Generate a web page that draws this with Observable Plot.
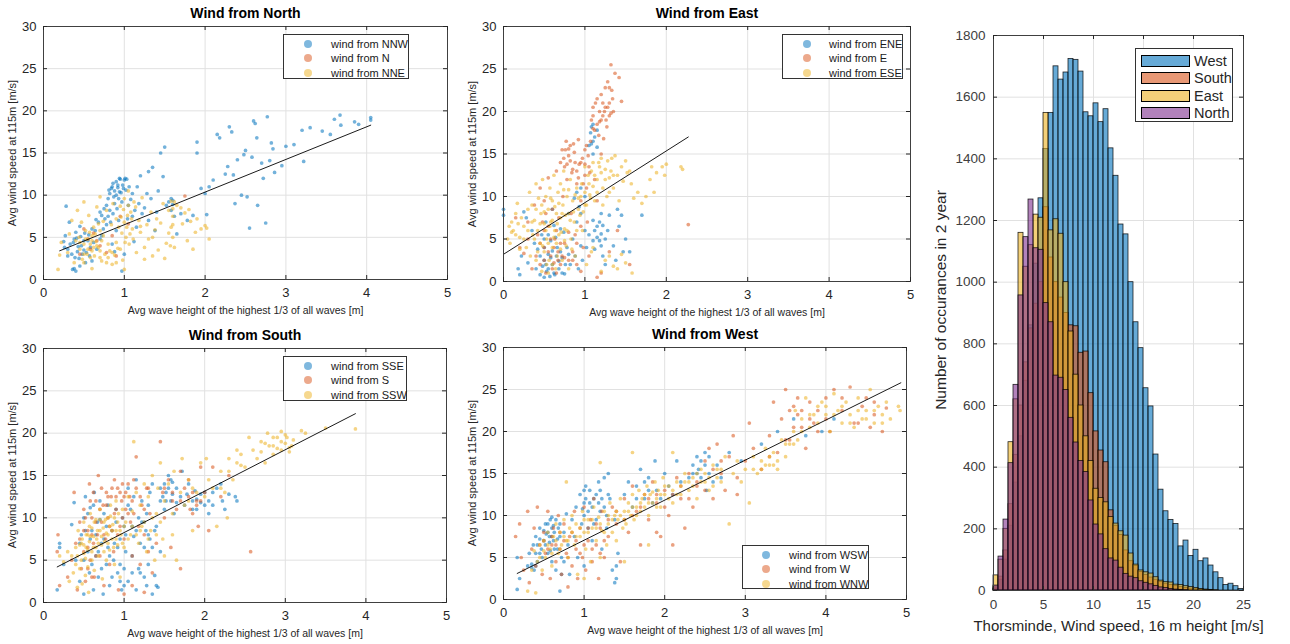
<!DOCTYPE html>
<html><head><meta charset="utf-8">
<script src="https://cdn.jsdelivr.net/npm/d3@7"></script>
<script src="https://cdn.jsdelivr.net/npm/@observablehq/plot@0.6"></script>
<style>
body{margin:0;background:#fff;font-family:"Liberation Sans",Arial,sans-serif;}
#fig{position:relative;width:1290px;height:644px;overflow:hidden;background:#fff;}
.panel{position:absolute;}
#fig svg g[aria-label$="tick label"]{font-size:13px;}
#fig svg.hist g[aria-label$="tick label"]{font-size:13.5px;}
.lg{position:absolute;background:#fff;border:1px solid #333;box-sizing:border-box;}
.lg .row{position:absolute;left:0;white-space:nowrap;color:#1a1a1a;}
.lg .mk{position:absolute;border-radius:50%;}
.lg .pt{position:absolute;border:1px solid #111;box-sizing:border-box;}
.ylab{position:absolute;white-space:nowrap;transform:translate(-50%,-50%) rotate(-90deg);color:#262626;font-family:"Liberation Sans",Arial,sans-serif;line-height:1;}
</style></head><body><div id="fig"></div>
<script>
// ---------- data ----------
const xTicks = [0,1,2,3,4,5];
const yTicks = [0,5,10,15,20,25,30];
const xLabel = "Avg wave height of the highest 1/3 of all waves [m]";
const yLabel = "Avg wind speed at 115m [m/s]";
const colors = ["#0072BD","#D95319","#EDB120"];

// North panel
const northTitle = "Wind from North";
const northNames = ["wind from NNW","wind from N","wind from NNE"];
const NNW = [[0.82,10.2],[0.85,11.0],[0.87,9.8],[0.88,10.5],[0.9,11.6],[0.92,10.9],[0.93,9.6],[0.95,11.9],[0.96,10.3],[0.98,11.2],[1.0,11.8],[1.02,10.6],[0.84,10.8],[0.9,10.0],[0.94,12.0],[1.03,11.9],[0.86,11.4],
[0.25,4.5],[0.27,5.2],[0.3,3.6],[0.33,4.2],[0.36,1.2],[0.38,4.8],[0.4,1.0],[0.4,5.6],[0.42,3.3],[0.44,2.5],[0.45,6.3],[0.47,4.0],[0.5,3.5],[0.52,2.0],[0.55,4.6],[0.58,3.8],[0.6,2.2],[0.28,8.7],[0.32,6.8],
[0.65,7.1],[0.7,8.0],[0.72,5.2],[0.75,8.4],[0.78,6.5],[0.8,7.5],[0.82,8.2],[0.85,4.2],[0.88,3.3],[0.9,5.8],[0.93,7.0],[0.97,1.0],[1.0,3.0],[1.05,8.8],[1.08,9.5],[1.1,7.5],[1.12,4.5],[1.15,6.2],[1.2,12.3],[1.18,9.0],[1.25,8.5],[1.28,10.2],[1.3,12.8],[1.35,13.3],[1.38,5.8],[1.45,15.0],[1.5,15.7],[1.42,10.5],
[1.55,9.2],[1.58,9.6],[1.6,8.9],[1.62,7.5],[1.65,5.4],[1.7,7.8],[1.78,7.0],[1.85,7.6],[1.9,15.0],[1.9,16.3],[1.95,10.8],[2.0,10.2],[2.02,7.7],[2.05,11.0],[2.1,11.8],[2.15,17.2],[2.18,16.8],[2.25,12.5],[2.28,13.4],[2.3,18.1],[2.33,17.5],[2.35,12.4],[2.37,9.0],[2.4,14.2],[2.45,10.0],[2.48,14.8],[2.5,15.3],[2.52,9.8],[2.55,6.1],[2.58,14.5],[2.6,18.8],[2.62,18.5],[2.64,16.8],[2.65,8.8],[2.7,13.8],[2.72,12.0],[2.75,6.7],[2.77,19.3],[2.8,14.1],[2.82,16.2],[2.84,15.5],[2.86,12.7],[2.95,13.5],[3.0,15.8],[3.1,16.0],[3.2,17.7],[3.22,14.0],[3.3,18.0],[3.45,17.6],[3.55,17.2],[3.6,19.0],[3.67,19.5],[3.68,18.3],[3.85,18.7],[3.9,18.4],[4.05,19.2],[4.05,18.9],
[0.35,3.0],[0.37,4.4],[0.39,2.6],[0.41,4.9],[0.43,3.9],[0.46,5.1],[0.48,3.0],[0.5,4.6],[0.51,5.5],[0.53,3.2],[0.56,5.3],[0.57,2.8],[0.6,6.0],[0.62,4.4],[0.64,5.8],[0.66,3.6],[0.68,6.8],[0.7,4.8],[0.72,7.6],[0.74,6.0],[0.76,7.2],[0.78,8.8],[0.8,9.6],[0.81,10.6],[0.83,6.8],[0.86,7.8],[0.88,9.0],[0.91,8.4],[0.92,11.2],[0.94,10.4],[0.97,9.2],[0.99,10.8],[1.01,12.0],[1.04,7.2],[1.06,11.0],[1.1,10.2],[1.13,8.2],[1.16,11.0],[1.22,7.8],[1.3,7.0],[1.33,9.6],[1.4,8.0],[1.48,12.2],[1.52,8.8],[1.58,8.2],[1.6,9.4],[0.45,1.6],[0.38,1.3],[0.3,2.8],[0.26,3.8]];
const N_ = [[0.55,4.8],[0.62,5.5],[0.7,4.0],[0.78,3.2],[0.95,7.5],[1.05,6.6],[0.5,6.0],[1.75,9.9],[0.45,3.0],[0.9,2.8],[0.58,3.6],[0.66,4.6],[0.85,5.2]];
const NNE = [[0.18,1.2],[0.2,2.9],[0.22,4.4],[0.3,3.2],[0.32,5.4],[0.35,7.0],[0.38,2.0],[0.4,4.6],[0.42,8.2],[0.44,5.0],[0.45,3.6],[0.47,6.8],[0.48,2.4],[0.5,4.2],[0.5,9.2],[0.52,5.8],[0.54,3.0],[0.55,4.8],[0.56,7.6],[0.58,4.2],[0.6,3.4],[0.6,5.2],[0.62,6.2],[0.63,2.8],[0.65,4.5],[0.66,8.6],[0.68,3.8],[0.7,5.8],[0.72,2.2],[0.74,6.9],[0.76,3.0],[0.78,8.2],[0.8,2.6],[0.82,3.4],[0.84,6.5],[0.86,9.0],[0.88,2.9],[0.9,7.2],[0.92,3.7],[0.95,8.7],[0.97,5.5],[0.98,2.3],[1.0,6.8],[1.0,9.6],[1.02,5.0],[1.04,7.6],[1.05,10.5],[1.06,4.2],[1.08,8.0],[1.1,6.0],[1.12,9.2],[1.15,3.2],[1.18,7.0],[1.2,5.6],[1.22,9.7],[1.25,3.8],[1.28,6.5],[1.3,4.8],[1.33,8.0],[1.35,2.8],[1.38,5.9],[1.4,7.2],[1.42,3.5],[1.45,6.7],[1.48,9.0],[1.5,2.5],[1.52,4.3],[1.55,8.2],[1.58,6.2],[1.6,5.0],[1.6,7.5],[1.62,9.2],[1.65,8.8],[1.7,8.5],[1.72,6.6],[1.75,7.9],[1.78,4.6],[1.8,8.3],[1.82,6.9],[1.85,3.6],[1.9,7.2],[1.95,6.0],[2.0,6.4],[2.02,6.1],[2.05,4.8],[1.88,5.6],[0.5,2.0],[0.6,1.3],[0.7,9.8],[0.85,1.8],[1.0,1.2],
[0.45,4.4],[0.5,3.0],[0.52,4.8],[0.55,3.6],[0.57,5.6],[0.58,2.6],[0.6,4.6],[0.62,3.8],[0.64,5.4],[0.66,4.0],[0.68,6.6],[0.7,3.4],[0.72,4.6],[0.74,5.2],[0.8,4.2],[0.85,3.2],[0.9,4.4],[0.93,6.2],[0.96,7.4],[0.99,8.3],[1.01,4.4],[1.03,6.2],[1.05,8.8],[1.07,5.4],[1.09,7.2],[1.11,4.8],[1.14,8.6],[1.2,6.3],[1.55,5.5],[1.57,4.0],[1.6,6.5],[1.62,3.8],[1.6,8.4],[1.58,9.3],[1.25,2.4],[1.35,5.0],[0.78,2.0],[0.9,2.0],[0.95,3.6],[0.7,2.6]];
const northFit = [[0.2,3.4],[4.05,18.3]];

// East panel
const eastTitle = "Wind from East";
const eastNames = ["wind from ENE","wind from E","wind from ESE"];
const ENE = [[0.0,8.5],[0.0,7.8],[0.18,1.5],[0.2,0.8],[0.22,3.0],[0.25,8.2],[0.28,7.5],[0.3,2.2],[0.35,6.0],[0.38,4.5],[0.4,1.5],[0.42,3.8],[0.45,0.8],[0.47,5.5],[0.5,0.5],[0.5,2.5],[0.52,7.0],[0.53,1.2],[0.55,3.2],[0.57,0.6],[0.58,4.8],[0.6,2.0],[0.6,8.5],[0.62,1.0],[0.64,5.2],[0.65,3.0],[0.68,1.5],[0.7,6.2],[0.72,2.8],[0.75,0.9],[0.78,4.0],[0.8,8.0],[0.82,2.0],[0.85,5.0],[0.87,9.8],[0.88,3.0],[0.9,10.5],[0.92,1.5],[0.93,8.8],[0.95,4.2],[0.97,2.5],[1.0,6.0],[1.02,4.0],[1.05,5.5],[1.05,16.0],[1.07,17.5],[1.08,18.2],[1.1,15.0],[1.1,7.2],[1.12,3.8],[1.12,17.0],[1.15,6.5],[1.15,15.8],[1.18,4.8],[1.2,5.6],[1.2,8.0],[1.22,3.0],[1.25,2.0],[1.28,6.0],[1.3,7.8],[1.35,4.2],[1.38,2.5],[1.4,8.5],[1.42,6.5],[1.45,7.8],[1.47,3.5],[1.5,5.0],[1.55,3.5],[1.7,7.8],[1.1,16.5],[1.0,10.0],[0.95,11.0],
[0.45,3.0],[0.5,4.0],[0.52,2.0],[0.55,1.5],[0.55,5.5],[0.58,2.8],[0.6,3.6],[0.62,6.6],[0.63,0.8],[0.66,4.0],[0.68,2.4],[0.7,3.5],[0.72,1.0],[0.74,5.8],[0.76,2.0],[0.8,3.2],[1.1,4.8],[1.12,6.0],[1.15,5.2],[1.18,7.0],[1.2,4.2],[1.22,6.6],[1.25,5.0],[1.15,17.8],[1.1,18.5],[1.08,16.2],[0.95,8.0],[0.9,7.0],[0.5,5.0],[0.48,1.8]];
const E_ = [[0.15,7.5],[0.2,4.0],[0.25,3.3],[0.3,5.0],[0.35,1.5],[0.38,9.0],[0.4,3.0],[0.42,5.5],[0.45,2.0],[0.45,11.0],[0.48,7.0],[0.5,4.0],[0.52,1.0],[0.55,6.5],[0.55,12.2],[0.58,3.0],[0.6,8.5],[0.62,2.2],[0.63,5.0],[0.65,13.0],[0.67,3.5],[0.68,7.5],[0.7,14.0],[0.7,2.0],[0.72,15.5],[0.73,10.0],[0.75,4.5],[0.75,13.5],[0.77,16.5],[0.78,12.0],[0.8,14.8],[0.8,2.5],[0.82,16.0],[0.83,8.0],[0.85,13.2],[0.85,3.5],[0.87,15.2],[0.88,5.5],[0.9,11.5],[0.9,2.0],[0.92,16.7],[0.93,13.8],[0.95,9.5],[0.97,14.5],[0.98,4.0],[1.0,12.5],[1.0,15.5],[1.02,11.0],[1.03,7.0],[1.05,13.5],[1.07,16.5],[1.08,19.0],[1.1,18.0],[1.1,20.5],[1.12,12.0],[1.13,21.0],[1.15,18.5],[1.15,9.5],[1.17,17.2],[1.18,20.0],[1.2,22.0],[1.2,15.0],[1.22,19.5],[1.23,16.8],[1.25,22.8],[1.25,20.5],[1.27,18.2],[1.28,23.5],[1.3,21.0],[1.3,19.5],[1.32,25.5],[1.33,22.5],[1.35,20.0],[1.37,24.5],[1.42,24.0],[1.45,21.2],[1.2,1.0],[1.15,0.5],[0.65,1.0],[0.5,9.5],[0.3,7.0],[2.27,6.7],[1.4,6.0],[1.3,3.5],[1.55,2.0],[0.95,1.2],[1.05,3.0],
[0.45,4.5],[0.5,2.5],[0.5,6.0],[0.52,8.0],[0.55,3.5],[0.58,5.0],[0.6,1.5],[0.62,4.0],[0.65,6.0],[0.67,2.5],[0.7,4.5],[0.72,3.0],[0.74,14.5],[0.76,15.5],[0.78,13.8],[0.8,15.6],[0.82,14.2],[0.84,12.8],[0.86,16.2],[0.88,14.0],[0.9,13.0],[0.92,12.2],[0.95,14.0],[0.98,11.5],[1.0,13.8],[1.02,16.0],[1.04,14.8],[1.06,12.8],[1.1,19.5],[1.12,17.8],[1.15,21.5],[1.18,18.8],[1.2,19.0],[1.22,21.0],[1.24,20.0],[1.26,19.0],[1.28,20.5],[1.3,22.8],[1.32,19.8],[1.34,21.5],[0.85,2.5],[0.75,2.8],[0.8,5.8],[0.9,4.5],[0.95,6.5]];
const ESE = [[0.05,5.0],[0.07,6.5],[0.08,4.5],[0.1,5.8],[0.1,7.0],[0.12,6.0],[0.15,8.0],[0.17,9.2],[0.2,5.2],[0.2,3.8],[0.22,7.5],[0.25,6.5],[0.28,4.0],[0.3,8.5],[0.32,10.5],[0.33,3.0],[0.35,9.0],[0.36,5.5],[0.38,7.2],[0.4,11.5],[0.4,2.5],[0.42,6.0],[0.43,9.8],[0.45,4.5],[0.46,8.0],[0.47,1.2],[0.48,12.0],[0.5,6.8],[0.5,3.5],[0.52,10.0],[0.53,5.0],[0.55,8.5],[0.55,1.0],[0.56,2.5],[0.57,11.0],[0.58,7.0],[0.6,4.0],[0.6,9.5],[0.62,12.5],[0.63,6.0],[0.64,1.5],[0.65,8.0],[0.66,3.0],[0.67,10.5],[0.68,5.5],[0.7,7.5],[0.7,11.5],[0.72,2.5],[0.73,9.0],[0.74,13.0],[0.75,6.2],[0.77,4.2],[0.78,10.0],[0.8,8.0],[0.8,1.5],[0.82,12.0],[0.83,5.0],[0.85,9.5],[0.87,7.0],[0.88,3.0],[0.9,11.0],[0.92,8.5],[0.95,10.0],[0.97,6.0],[1.0,9.0],[1.0,13.5],[1.02,2.0],[1.05,11.5],[1.07,9.8],[1.08,3.5],[1.1,14.0],[1.12,12.5],[1.15,10.5],[1.18,13.5],[1.2,14.5],[1.2,1.2],[1.22,9.0],[1.25,12.0],[1.28,14.2],[1.3,10.5],[1.3,3.0],[1.32,13.0],[1.35,11.0],[1.37,14.8],[1.4,12.5],[1.4,1.5],[1.42,9.5],[1.45,13.5],[1.47,11.8],[1.5,14.2],[1.5,2.2],[1.52,12.8],[1.55,13.0],[1.57,11.5],[1.58,1.0],[1.6,9.8],[1.65,10.5],[1.7,9.2],[1.75,10.0],[1.8,12.0],[1.82,13.5],[1.85,10.5],[1.88,12.8],[1.95,13.5],[2.0,13.8],[1.98,12.5],[2.2,13.2],[2.18,13.5],[1.45,3.2],[1.35,1.8],[1.1,4.0],[1.25,2.5],
[0.42,3.5],[0.45,6.8],[0.47,9.0],[0.48,4.2],[0.5,8.2],[0.52,6.0],[0.53,2.0],[0.55,4.5],[0.57,6.5],[0.58,9.8],[0.6,7.2],[0.6,2.0],[0.62,5.2],[0.63,8.8],[0.65,4.5],[0.66,6.8],[0.68,9.2],[0.7,3.8],[0.71,5.8],[0.72,8.0],[0.74,10.8],[0.75,4.8],[0.76,7.8],[0.78,6.0],[0.8,10.8],[0.82,7.2],[0.84,3.8],[0.86,8.2],[0.88,10.2],[0.9,6.0],[0.92,9.8],[0.94,7.8],[0.96,11.5],[0.98,8.2],[1.0,10.5],[1.02,9.0],[1.04,12.5],[1.06,10.2],[1.08,13.0],[1.1,11.2],[1.12,9.5],[1.15,12.0],[1.17,14.0],[1.2,12.8],[1.22,11.0],[1.25,13.2],[1.27,10.0],[1.3,12.2],[1.33,14.5],[1.35,12.5],[0.3,6.0],[0.35,7.0],[0.38,5.0],[0.25,5.0],[0.4,8.5],[0.15,5.5],[0.18,6.8]];
const eastFit = [[0.0,3.2],[2.27,17.0]];

// South panel
const southTitle = "Wind from South";
const southNames = ["wind from SSE","wind from S","wind from SSW"];
const SSE = [[0.17,1.5],[0.2,6.5],[0.2,7.0],[0.25,4.5],[0.35,9.2],[0.38,11.8],[0.4,5.0],[0.45,2.5],[0.47,8.0],[0.5,1.0],[0.5,10.0],[0.52,12.5],[0.55,6.0],[0.57,3.5],[0.58,11.2],[0.6,8.5],[0.62,1.5],[0.63,13.0],[0.65,5.5],[0.67,9.5],[0.68,3.0],[0.7,12.0],[0.72,7.0],[0.74,1.0],[0.75,10.5],[0.78,4.5],[0.8,6.5],[0.82,2.0],[0.85,8.5],[0.87,5.0],[0.9,11.0],[0.92,3.5],[0.95,7.5],[0.97,1.5],[1.0,9.0],[1.0,4.0],[1.02,6.0],[1.05,13.5],[1.05,2.5],[1.08,11.0],[1.1,5.5],[1.12,7.8],[1.15,1.5],[1.15,14.5],[1.18,10.0],[1.2,3.5],[1.22,12.0],[1.25,6.5],[1.27,8.5],[1.28,2.0],[1.3,4.5],[1.3,11.5],[1.32,7.5],[1.35,1.0],[1.35,14.0],[1.38,3.2],[1.4,9.0],[1.42,1.8],[1.45,13.5],[1.48,12.5],[1.5,11.0],[1.52,13.0],[1.55,15.0],[1.58,12.0],[1.6,14.2],[1.62,10.5],[1.65,13.5],[1.7,12.5],[1.72,15.5],[1.75,11.5],[1.78,12.8],[1.8,14.0],[1.85,11.0],[1.88,13.2],[1.9,12.2],[1.95,11.8],[2.0,13.0],[2.05,10.5],[2.1,11.5],[2.15,13.5],[2.2,14.0],[2.22,12.0],[2.25,11.0],[2.3,12.8],[2.38,12.5],[2.4,12.0],[1.45,6.0],[1.25,9.5],
[0.45,7.0],[0.5,5.0],[0.52,8.5],[0.55,10.5],[0.58,7.5],[0.6,4.5],[0.62,11.5],[0.65,8.0],[0.68,6.0],[0.7,9.8],[0.72,4.0],[0.75,7.5],[0.78,9.0],[0.8,11.5],[0.82,5.5],[0.85,3.0],[0.88,7.0],[0.9,9.5],[0.92,6.5],[0.95,4.5],[0.98,10.0],[1.0,2.0],[1.02,8.0],[1.05,11.5],[1.1,9.0],[1.12,12.5],[1.15,8.5],[1.18,4.0],[1.2,7.0],[1.22,9.5],[1.25,3.0],[1.28,10.5],[1.3,8.0],[1.32,13.0],[1.35,6.5],[1.38,8.5],[1.4,2.0],[1.45,12.0],[1.5,14.0],[1.52,12.0],[1.55,13.5],[1.58,14.5],[1.6,12.8],[1.65,11.8],[1.85,12.0],[1.9,11.0],[1.95,12.8],[2.0,11.5],[2.05,12.0],[2.1,13.0],[1.1,3.5],[0.95,2.5]];
const S_ = [[0.17,6.0],[0.18,8.0],[0.2,2.0],[0.3,3.0],[0.35,5.0],[0.38,13.0],[0.4,7.0],[0.42,1.5],[0.45,9.5],[0.47,4.0],[0.5,11.0],[0.5,6.0],[0.52,2.5],[0.55,8.5],[0.57,14.0],[0.58,5.0],[0.6,10.0],[0.62,7.0],[0.63,3.0],[0.65,12.0],[0.67,8.0],[0.68,15.0],[0.7,5.5],[0.72,9.5],[0.74,11.5],[0.75,2.0],[0.77,7.5],[0.78,13.0],[0.8,10.0],[0.82,4.5],[0.84,12.5],[0.85,8.5],[0.87,6.0],[0.88,14.5],[0.9,11.0],[0.92,13.5],[0.93,1.5],[0.95,9.0],[0.97,12.0],[0.98,14.0],[1.0,7.5],[1.0,1.0],[1.02,13.0],[1.05,10.5],[1.07,12.5],[1.1,5.5],[1.12,14.5],[1.15,17.2],[1.18,9.0],[1.2,4.5],[1.22,11.5],[1.25,8.0],[1.28,13.5],[1.3,6.0],[1.32,10.5],[1.35,3.5],[1.4,7.0],[1.45,19.0],[1.48,13.0],[1.5,10.0],[1.55,14.5],[1.6,12.0],[1.65,11.0],[1.7,15.5],[1.75,13.5],[1.8,14.5],[1.82,11.0],[1.85,10.5],[1.9,12.0],[1.92,9.0],[1.95,16.0],[2.0,13.0],[2.05,8.5],[2.1,16.0],[2.2,12.5],[2.3,15.0],[2.57,6.0],[1.58,6.5],[1.7,4.0],[1.1,2.0],[1.25,1.2],
[0.45,7.5],[0.5,8.5],[0.52,10.0],[0.55,6.5],[0.58,12.0],[0.6,8.0],[0.62,13.0],[0.65,9.5],[0.7,11.0],[0.72,13.5],[0.75,8.0],[0.78,11.5],[0.8,12.5],[0.82,9.0],[0.85,13.5],[0.88,10.5],[0.9,12.5],[0.92,8.0],[0.95,13.0],[0.98,10.0],[1.0,12.5],[1.02,11.0],[1.05,14.0],[1.08,9.5],[1.1,12.0],[1.12,10.5],[1.15,13.5],[1.2,12.5],[1.25,11.0],[1.3,13.5],[1.5,13.5],[1.6,13.0],[1.7,12.0],[1.8,12.5],[1.85,13.0],[1.9,11.5],[1.95,12.0],[0.55,4.0],[0.6,3.0],[0.65,5.5]];
const SSW = [[0.2,5.5],[0.25,4.8],[0.3,6.0],[0.32,2.5],[0.35,5.5],[0.37,3.5],[0.4,6.5],[0.42,1.8],[0.43,8.5],[0.45,4.0],[0.47,7.0],[0.48,2.2],[0.5,5.8],[0.5,9.5],[0.52,3.2],[0.53,6.5],[0.55,8.0],[0.56,1.2],[0.57,7.2],[0.58,10.5],[0.6,5.0],[0.6,8.8],[0.62,6.5],[0.63,3.8],[0.65,9.8],[0.66,7.5],[0.68,5.5],[0.7,8.5],[0.7,11.0],[0.72,6.8],[0.73,2.8],[0.75,9.5],[0.76,7.2],[0.78,5.0],[0.8,10.0],[0.8,8.0],[0.82,6.2],[0.83,11.5],[0.85,7.5],[0.86,9.2],[0.88,4.5],[0.9,8.5],[0.9,12.0],[0.92,6.8],[0.93,10.5],[0.95,3.0],[0.96,8.0],[0.98,11.0],[1.0,6.5],[1.02,9.5],[1.05,12.5],[1.08,8.0],[1.1,10.8],[1.12,19.0],[1.15,13.0],[1.18,7.0],[1.2,11.5],[1.22,9.0],[1.25,14.0],[1.28,6.0],[1.3,12.5],[1.33,8.5],[1.35,15.0],[1.38,5.0],[1.4,10.5],[1.42,13.5],[1.45,16.5],[1.48,7.5],[1.5,12.0],[1.5,5.5],[1.55,14.0],[1.6,10.5],[1.62,15.5],[1.65,5.0],[1.7,13.0],[1.72,17.0],[1.75,11.5],[1.8,14.5],[1.85,8.5],[1.9,13.0],[1.95,16.5],[2.0,12.5],[2.02,17.0],[2.05,14.5],[2.1,13.5],[2.15,9.0],[2.2,15.5],[2.25,13.0],[2.28,10.0],[2.3,17.0],[2.35,14.5],[2.4,18.0],[2.45,17.5],[2.5,16.0],[2.55,19.5],[2.6,18.0],[2.65,17.0],[2.7,19.0],[2.75,16.5],[2.78,20.0],[2.8,18.5],[2.85,19.5],[2.9,18.2],[2.95,20.2],[3.0,18.8],[3.02,19.5],[3.05,17.8],[3.08,18.5],[3.1,19.2],[3.2,20.3],[3.25,20.0],[3.5,20.6],[3.87,20.5],[2.85,17.5],[2.95,19.0],[1.45,9.5],[1.6,8.0],
[0.4,4.5],[0.42,5.5],[0.45,6.8],[0.47,5.0],[0.48,7.5],[0.5,6.8],[0.52,5.2],[0.53,8.0],[0.55,6.2],[0.55,4.2],[0.57,9.0],[0.58,7.8],[0.6,6.0],[0.62,7.8],[0.63,9.5],[0.65,6.5],[0.67,8.5],[0.68,7.0],[0.7,9.8],[0.72,7.8],[0.74,8.8],[0.75,6.0],[0.77,9.8],[0.78,8.2],[0.8,7.0],[0.82,9.0],[0.83,10.2],[0.85,8.5],[0.87,6.5],[0.88,10.0],[0.9,7.5],[0.92,9.5],[0.95,8.5],[0.98,7.0],[1.0,9.0],[1.05,7.5],[1.1,9.0],[1.15,8.0],[1.2,8.5],[1.25,9.5],[1.3,7.5],[1.35,10.0],[1.4,8.0],[2.85,18.5],[2.9,19.5],[2.95,18.0],[3.0,19.8],[3.05,18.3],[2.75,18.8],[2.7,17.8],[2.45,16.2],[2.4,16.5],[2.2,13.5],[2.3,15.5],[1.8,12.0],[1.85,13.5]];
const southFit = [[0.17,4.2],[3.87,22.3]];

// West panel
const westTitle = "Wind from West";
const westNames = ["wind from WSW","wind from W","wind from WNW"];
const WSW = [[0.17,1.2],[0.17,5.0],[0.2,2.5],[0.3,4.0],[0.32,5.5],[0.35,3.8],[0.37,6.5],[0.4,7.5],[0.42,4.5],[0.45,8.5],[0.47,6.0],[0.5,7.0],[0.52,9.0],[0.55,5.5],[0.55,8.0],[0.57,6.8],[0.58,9.5],[0.6,7.5],[0.6,4.5],[0.62,8.8],[0.63,6.0],[0.65,3.5],[0.67,7.2],[0.7,1.0],[0.7,9.0],[0.72,5.0],[0.75,8.0],[0.78,10.2],[0.8,6.5],[0.82,3.0],[0.85,9.5],[0.88,7.5],[0.9,11.0],[0.92,5.0],[0.95,12.5],[0.97,9.0],[1.0,10.0],[1.0,4.0],[1.02,13.5],[1.05,8.5],[1.07,11.5],[1.1,7.0],[1.12,12.0],[1.15,9.5],[1.18,14.0],[1.2,10.5],[1.22,6.0],[1.25,11.0],[1.28,8.5],[1.3,15.0],[1.32,12.0],[1.35,3.5],[1.38,9.5],[1.4,2.5],[1.42,5.5],[1.5,12.5],[1.55,14.0],[1.6,11.0],[1.65,13.5],[1.7,15.5],[1.75,12.0],[1.8,14.5],[1.85,11.5],[1.88,16.5],[1.9,13.0],[1.95,12.0],[2.0,15.0],[2.05,13.5],[2.1,12.5],[2.15,16.5],[2.2,14.0],[2.3,14.5],[2.35,16.0],[2.4,17.0],[2.42,15.5],[2.45,16.5],[2.5,17.5],[2.52,13.0],[2.55,15.0],[2.6,14.0],[2.65,16.0],[2.7,14.5],[2.8,17.5],[2.95,16.5],[3.2,18.5],[3.4,20.0],[3.6,21.5],[3.75,19.5],[3.95,20.0],[4.1,21.5],
[0.4,5.5],[0.42,6.5],[0.45,7.2],[0.48,5.0],[0.5,8.2],[0.52,6.5],[0.53,7.8],[0.55,9.0],[0.57,7.5],[0.58,5.8],[0.6,8.5],[0.6,9.8],[0.62,7.0],[0.63,8.0],[0.65,9.5],[0.67,6.0],[0.68,8.5],[0.7,7.5],[0.35,4.2],[0.38,3.5],[0.4,4.0],[0.45,5.5],[1.0,11.5],[1.02,12.0],[1.05,10.5],[1.07,13.0],[1.1,11.0],[1.12,9.0],[1.15,12.5],[1.18,11.5],[1.2,13.0],[1.22,12.0],[1.25,14.5],[1.28,10.0],[1.3,12.5],[1.0,13.0],[0.98,10.8],[2.4,15.0],[2.45,14.5],[2.5,16.0],[2.55,17.0],[2.35,15.0],[1.8,13.0],[1.75,14.0],[1.65,12.0],[0.72,3.0],[0.75,4.5],[1.4,4.0],[1.38,2.0]];
const W_ = [[0.15,7.5],[0.2,9.0],[0.22,5.0],[0.25,3.5],[0.3,10.5],[0.32,2.0],[0.35,6.0],[0.38,8.5],[0.4,4.0],[0.42,11.0],[0.45,6.5],[0.48,3.0],[0.5,8.0],[0.52,5.5],[0.55,10.5],[0.58,2.5],[0.6,6.5],[0.62,8.5],[0.65,4.5],[0.68,10.0],[0.7,6.0],[0.72,3.0],[0.75,9.0],[0.78,5.5],[0.8,1.5],[0.82,7.5],[0.85,4.0],[0.88,10.5],[0.9,6.0],[0.92,2.5],[0.95,8.5],[0.98,5.0],[1.0,11.0],[1.02,3.5],[1.05,7.0],[1.08,9.5],[1.1,4.5],[1.12,12.0],[1.15,6.5],[1.18,2.5],[1.2,8.5],[1.22,10.5],[1.25,5.0],[1.3,7.5],[1.35,11.0],[1.4,9.0],[1.45,4.5],[1.5,12.0],[1.55,8.0],[1.6,13.5],[1.65,10.5],[1.7,6.5],[1.75,12.5],[1.8,9.5],[1.85,14.0],[1.9,11.5],[1.95,7.5],[2.0,13.0],[2.05,10.0],[2.1,6.5],[2.15,14.5],[2.2,12.0],[2.25,8.5],[2.3,15.0],[2.35,11.0],[2.4,13.5],[2.5,16.5],[2.55,18.0],[2.6,12.0],[2.65,18.5],[2.7,15.0],[2.75,13.0],[2.8,17.0],[2.85,19.5],[2.9,14.5],[3.0,16.5],[3.05,21.0],[3.1,18.0],[3.2,15.5],[3.3,19.5],[3.35,23.5],[3.4,17.5],[3.45,21.5],[3.5,25.0],[3.55,19.0],[3.6,23.0],[3.65,22.0],[3.7,20.5],[3.75,18.0],[3.8,23.5],[3.85,21.0],[3.9,22.5],[4.0,24.0],[4.05,20.0],[4.1,25.0],[4.2,22.5],[4.3,25.3],[4.35,21.0],[4.45,23.0],[4.55,20.5],[4.6,22.0],[4.7,20.0],[4.75,22.8],[2.9,12.5],[1.9,8.0],
[0.5,7.0],[0.55,6.0],[0.6,7.5],[0.65,6.5],[0.7,8.0],[0.75,7.0],[0.8,5.0],[0.85,8.0],[0.9,7.0],[0.95,5.5],[1.0,6.5],[1.05,8.5],[1.1,6.0],[1.15,9.0],[1.2,5.5],[1.25,7.0],[1.3,9.5],[1.4,10.5],[1.5,9.5],[1.6,10.0],[1.7,11.0],[1.8,12.0],[1.9,12.5],[2.0,11.0],[2.1,12.5],[2.2,13.5],[2.3,12.0],[2.4,14.0],[2.5,13.0],[2.6,15.5],[2.7,16.5],[3.3,17.0],[3.5,19.0],[3.6,20.5],[3.7,22.5],[3.8,21.5],[3.9,20.0],[4.0,21.5],[4.2,24.0],[4.4,21.0],[4.5,24.0],[4.6,23.5],[3.55,22.5],[3.65,24.0]];
const WNW = [[0.3,1.0],[0.35,3.5],[0.38,5.8],[0.4,0.8],[0.42,4.5],[0.45,6.5],[0.48,3.5],[0.5,7.0],[0.52,5.0],[0.55,8.0],[0.58,6.0],[0.6,4.0],[0.62,7.5],[0.65,9.0],[0.68,5.5],[0.7,8.0],[0.72,6.5],[0.75,9.5],[0.78,7.0],[0.8,5.0],[0.82,8.5],[0.85,10.0],[0.88,6.5],[0.9,9.0],[0.92,3.0],[0.95,7.5],[0.98,10.5],[1.0,8.0],[1.0,2.5],[1.02,6.0],[1.05,9.5],[1.08,4.5],[1.1,8.5],[1.12,11.0],[1.15,7.0],[1.18,9.8],[1.2,5.0],[1.22,8.2],[1.25,10.5],[1.28,6.5],[1.3,9.0],[1.32,11.5],[1.35,8.0],[1.38,10.0],[1.4,7.0],[1.42,9.5],[1.45,12.0],[1.48,8.5],[1.5,10.5],[1.52,9.0],[1.55,11.5],[1.58,10.0],[1.6,12.5],[1.62,9.5],[1.65,11.0],[1.68,13.0],[1.7,10.5],[1.72,12.0],[1.75,11.0],[1.78,13.5],[1.8,10.0],[1.82,12.5],[1.85,11.5],[1.88,14.0],[1.9,12.0],[1.92,13.0],[1.95,11.0],[1.98,14.5],[2.0,12.5],[2.05,13.5],[2.1,11.5],[2.15,14.0],[2.2,12.5],[2.25,15.0],[2.3,13.0],[2.35,14.5],[2.4,12.0],[2.45,15.5],[2.5,14.0],[2.55,13.0],[2.6,16.0],[2.65,14.5],[2.7,15.5],[2.75,17.0],[2.8,9.0],[2.85,15.0],[2.9,16.5],[2.95,14.0],[3.0,15.5],[3.05,11.5],[3.1,17.0],[3.15,15.0],[3.2,16.5],[3.25,18.0],[3.3,16.0],[3.35,17.5],[3.4,15.5],[3.45,19.0],[3.5,17.0],[3.55,18.5],[3.6,20.0],[3.62,22.5],[3.65,19.0],[3.7,21.5],[3.75,24.0],[3.8,20.5],[3.85,22.0],[3.9,21.0],[3.95,23.5],[4.0,22.0],[4.05,20.0],[4.1,24.5],[4.15,22.5],[4.2,21.0],[4.25,23.5],[4.3,22.0],[4.35,20.5],[4.4,24.0],[4.45,21.5],[4.5,22.5],[4.55,25.0],[4.6,21.0],[4.65,23.0],[4.7,22.0],[4.8,21.5],[4.9,23.0],[4.92,22.5],[2.1,17.5],[1.6,17.5],[0.78,14.0],[1.5,4.5],[1.8,6.5],[1.2,16.3],[3.1,15.5],
[0.45,5.0],[0.5,5.8],[0.55,6.5],[0.6,5.5],[0.65,7.0],[0.7,6.0],[0.75,7.5],[0.8,7.0],[0.85,8.0],[0.9,7.5],[0.95,8.5],[1.0,9.5],[1.05,8.0],[1.1,9.5],[1.15,8.5],[1.2,9.0],[1.25,8.0],[1.3,10.0],[1.35,9.5],[1.4,10.5],[1.45,10.0],[1.5,9.5],[1.55,10.5],[1.6,11.0],[1.65,10.0],[1.7,11.5],[1.75,12.5],[1.8,11.5],[1.85,12.8],[1.9,11.0],[1.95,12.5],[2.0,13.5],[2.05,12.0],[2.1,13.0],[2.15,12.5],[2.2,13.5],[2.25,14.0],[2.3,14.0],[2.35,13.5],[2.4,15.0],[2.45,14.0],[2.5,15.0],[2.55,14.5],[2.6,13.5],[2.65,15.5],[2.7,14.0],[3.2,15.5],[3.3,17.0],[3.4,16.5],[3.5,18.5],[3.6,18.5],[3.7,20.0],[3.8,22.0],[3.9,23.0],[4.0,23.0],[4.1,22.0],[4.2,23.0],[4.3,21.0],[4.4,22.5],[4.5,21.5],[4.6,22.5],[4.7,21.0],[4.75,23.5],[3.25,16.0],[3.35,16.0]];
const westFit = [[0.17,3.1],[4.93,25.8]];

// Histogram (bin width 0.5 m/s, bins from 0 to 25)
const histBinWidth = 0.5;
const histXTicks = [0,5,10,15,20,25];
const histYTicks = [0,200,400,600,800,1000,1200,1400,1600,1800];
const histNames = ["West","South","East","North"];
const histColors = ["#0072BD","#D95319","#EDB120","#7E2F8E"];
const histXLabel = "Thorsminde, Wind speed, 16 m height [m/s]";
const histYLabel = "Number of occurances in 2 year";
const histWest  = [5,35,100,210,350,500,680,860,1060,1272,1432,1549,1700,1657,1680,1724,1721,1683,1551,1538,1580,1519,1561,1434,1345,1187,1155,1000,870,786,656,597,441,327,257,229,216,143,162,112,132,95,104,81,59,40,18,22,14,5];
const histSouth = [10,45,130,280,440,600,740,850,930,1000,1243,1080,1000,950,900,860,857,771,775,640,516,454,416,260,210,180,130,95,80,60,50,42,35,28,22,18,14,11,8,6,4,3,2,1,0,0,0,0,0,0];
const histEast  = [49,100,200,481,620,1160,1050,1120,1219,1209,1549,1168,1204,1157,1000,840,700,600,500,420,330,300,286,238,217,192,178,120,84,65,59,55,43,32,27,26,19,18,14,11,8,5,3,2,1,0,0,0,0,0];
const histNorth = [16,110,230,413,667,957,1146,1268,1110,1105,932,870,697,690,650,560,480,420,384,292,214,182,134,104,97,74,54,45,40,30,25,20,15,10,8,5,3,2,1,0,0,0,0,0,0,0,0,0,0,0];

// ---------- drawing ----------
const fig = document.getElementById("fig");
const FONT = "'Liberation Sans', Arial, Helvetica, sans-serif";
const fmt = d => String(d);

function place(el, left, top){
  el.classList.add("panel");
  el.style.left = left + "px"; el.style.top = top + "px";
  fig.appendChild(el);
}

function rotatedLabel(text, cx, cy, size){
  const d = document.createElement("div");
  d.className = "ylab";
  d.textContent = text;
  Object.assign(d.style, {left:cx+"px", top:cy+"px", fontSize:size+"px"});
  fig.appendChild(d);
}

function scatterPanel(title, seriesData, fit, left, top, m){
  const W = 460, H = 320;
  const iw = W - m.l - m.r, ih = H - m.t - m.b;
  const marks = [
    Plot.gridX(xTicks, {stroke:"#e1e1e1", strokeOpacity:1}),
    Plot.gridY(yTicks, {stroke:"#e1e1e1", strokeOpacity:1}),
    ...seriesData.map((s,i) => Plot.dot(s, {x:d=>d[0], y:d=>d[1], r:1.85, fill:colors[i], fillOpacity:0.55, stroke:null})),
    Plot.line(fit, {x:d=>d[0], y:d=>d[1], stroke:"#000", strokeWidth:0.9}),
    Plot.frame({stroke:"#404040", strokeWidth:1}),
    Plot.tickX(xTicks, {x:d=>d, insetTop:ih-4, stroke:"#262626"}),
    Plot.tickX(xTicks, {x:d=>d, insetBottom:ih-4, stroke:"#262626"}),
    Plot.tickY(yTicks, {y:d=>d, insetRight:iw-4, stroke:"#262626"}),
    Plot.tickY(yTicks, {y:d=>d, insetLeft:iw-4, stroke:"#262626"}),
    Plot.axisX(xTicks, {tickSize:0, tickPadding:8, label:null, fill:"#262626", tickFormat:fmt}),
    Plot.axisY(yTicks, {tickSize:0, tickPadding:7, label:null, fill:"#262626", tickFormat:fmt}),
    Plot.text([title], {text:d=>d, frameAnchor:"top", lineAnchor:"middle", dy:-13, fontWeight:"bold", fontSize:14, fill:"#000"}),
    Plot.text([xLabel], {text:d=>d, frameAnchor:"bottom", lineAnchor:"middle", dy:31, fontSize:10.5, fill:"#262626"})
  ];
  const svg = Plot.plot({
    width:W, height:H, marginLeft:m.l, marginRight:m.r, marginTop:m.t, marginBottom:m.b,
    style:{fontFamily:FONT, fontSize:"13px", background:"transparent", overflow:"visible"},
    x:{domain:[0,5]}, y:{domain:[0,30]},
    marks
  });
  place(svg, left, top);
  rotatedLabel(yLabel, left + 12, top + m.t + ih/2, 11);
}

function scatterLegend(names, box, rows, mkX, txX){
  const d = document.createElement("div");
  d.className = "lg";
  Object.assign(d.style, {left:box[0]+"px", top:box[1]+"px", width:(box[2]-box[0])+"px", height:(box[3]-box[1])+"px"});
  names.forEach((n,i)=>{
    const mk = document.createElement("div");
    mk.className = "mk";
    Object.assign(mk.style, {left:(mkX-4)+"px", top:(rows[i]-4)+"px", width:"8px", height:"8px", background:colors[i], opacity:0.5});
    d.appendChild(mk);
    const t = document.createElement("div");
    t.className = "row";
    t.textContent = n;
    Object.assign(t.style, {left:txX+"px", top:(rows[i]-7)+"px", fontSize:"11px", lineHeight:"14px", fontFamily:FONT});
    d.appendChild(t);
  });
  fig.appendChild(d);
}

scatterPanel(northTitle, [NNW, N_, NNE], northFit, 0, 0, {l:43, r:13, t:26, b:41});
scatterPanel(eastTitle, [ENE, E_, ESE], eastFit, 460, 0, {l:43, r:10, t:26, b:39});
scatterPanel(southTitle, [SSE, S_, SSW], southFit, 0, 320, {l:43, r:14, t:28, b:38});
scatterPanel(westTitle, [WSW, W_, WNW], westFit, 460, 320, {l:43, r:14, t:27, b:41});

scatterLegend(northNames, [283,34,409,79], [8.5,23,37.5], 24, 47);
scatterLegend(eastNames, [782,34,903,79], [8.5,23,37.5], 24, 46);
scatterLegend(southNames, [283,356,407,401], [8.5,23,37.5], 24, 47);
scatterLegend(westNames, [742,545,869,589], [8.5,23,37.5], 23, 46);

// histogram
(function(){
  const W = 370, H = 644, m = {l:73, r:47, t:35, b:54};
  const iw = W - m.l - m.r, ih = H - m.t - m.b;
  const series = [histWest, histSouth, histEast, histNorth];
  const marks = [
    Plot.gridX(histXTicks, {stroke:"#e1e1e1", strokeOpacity:1}),
    Plot.gridY(histYTicks, {stroke:"#e1e1e1", strokeOpacity:1}),
    ...series.map((vals,k) => Plot.rectY(
      vals.map((v,i)=>({x1:i*histBinWidth, x2:(i+1)*histBinWidth, y:v})).filter(d=>d.y>0),
      {x1:"x1", x2:"x2", y:"y", fill:histColors[k], fillOpacity:0.6, stroke:"#000", strokeWidth:0.8, strokeOpacity:0.85})),
    Plot.frame({stroke:"#404040", strokeWidth:1}),
    Plot.tickX(histXTicks, {x:d=>d, insetTop:ih-4, stroke:"#262626"}),
    Plot.tickX(histXTicks, {x:d=>d, insetBottom:ih-4, stroke:"#262626"}),
    Plot.tickY(histYTicks, {y:d=>d, insetRight:iw-4, stroke:"#262626"}),
    Plot.tickY(histYTicks, {y:d=>d, insetLeft:iw-4, stroke:"#262626"}),
    Plot.axisX(histXTicks, {tickSize:0, tickPadding:9, label:null, fill:"#404040", tickFormat:fmt}),
    Plot.axisY(histYTicks, {tickSize:0, tickPadding:8, label:null, fill:"#404040", tickFormat:fmt}),
    Plot.text([histXLabel], {text:d=>d, frameAnchor:"bottom", lineAnchor:"middle", dy:36, fontSize:15, fill:"#262626"})
  ];
  const svg = Plot.plot({
    width:W, height:H, marginLeft:m.l, marginRight:m.r, marginTop:m.t, marginBottom:m.b,
    style:{fontFamily:FONT, fontSize:"13.5px", background:"transparent", overflow:"visible"},
    x:{domain:[0,25]}, y:{domain:[0,1800]},
    marks
  });
  svg.classList.add("hist");
  place(svg, 920, 0);
  rotatedLabel(histYLabel, 941, 300, 15.5);

  const d = document.createElement("div");
  d.className = "lg";
  Object.assign(d.style, {left:"1135px", top:"48px", width:"98px", height:"74px"});
  histNames.forEach((n,i)=>{
    const cy = 11.5 + i*17.5;
    const p = document.createElement("div");
    p.className = "pt";
    Object.assign(p.style, {left:"5px", top:(cy-6)+"px", width:"49px", height:"12px", background:histColors[i], opacity:0.6, border:"none"});
    d.appendChild(p);
    const b = document.createElement("div");
    b.className = "pt";
    Object.assign(b.style, {left:"5px", top:(cy-6)+"px", width:"49px", height:"12px", background:"transparent", borderColor:"#000"});
    d.appendChild(b);
    const t = document.createElement("div");
    t.className = "row";
    t.textContent = n;
    Object.assign(t.style, {left:"58px", top:(cy-9)+"px", fontSize:"14.5px", lineHeight:"18px", fontFamily:FONT, color:"#262626"});
    d.appendChild(t);
  });
  fig.appendChild(d);
})();
</script>
</body></html>
